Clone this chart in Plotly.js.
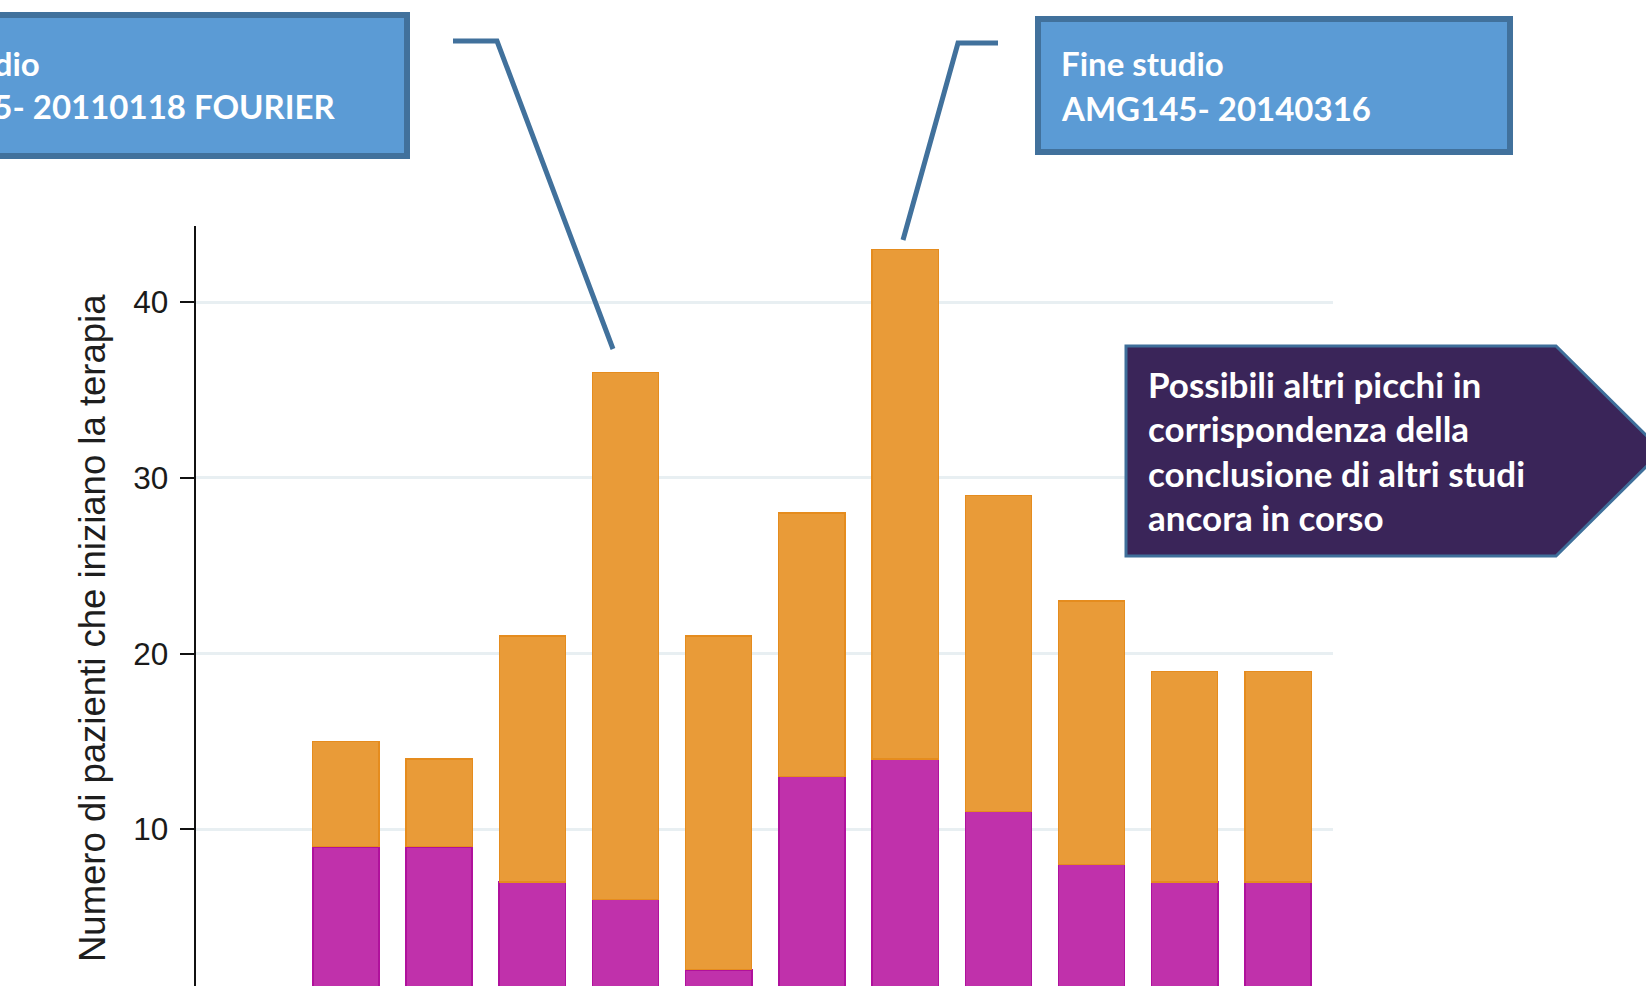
<!DOCTYPE html>
<html>
<head>
<meta charset="utf-8">
<script src="https://cdn.plot.ly/plotly-3.0.1.min.js"></script>
<style>
  html, body { margin: 0; padding: 0; background: #ffffff; }
  #chart { width: 1646px; height: 986px; }
</style>
</head>
<body>
<div id="chart"></div>
<script>
// ---- data ----
const periodi = [1, 2, 3, 4, 5, 6, 7, 8, 9, 10, 11];
const pazientiMagenta = [9, 9, 7, 6, 2, 13, 14, 11, 8, 7, 7];
const pazientiArancio = [6, 5, 14, 30, 19, 15, 29, 18, 15, 12, 12];
const yTickVals = [10, 20, 30, 40];
const yTitle = "Numero di pazienti che iniziano la terapia";
const box1Lines = ["Fine studio", "AMG145- 20110118 FOURIER"];
const box2Lines = ["Fine studio", "AMG145- 20140316"];
const box3Lines = ["Possibili altri picchi in", "corrispondenza della", "conclusione di altri studi", "ancora in corso"];

// ---- layout geometry ----
const W = 1646, H = 986;
const L = 196, R = 1333, T = 226, B = 986;
const PX = p => (p - L) / (R - L);
const PY = p => (B - p) / (B - T);

const traces = [
  {
    type: "bar", x: periodi, y: pazientiMagenta, name: "A",
    marker: { color: "#C031AB", line: { color: "#B0119C", width: 1.5 } },
    hoverinfo: "skip"
  },
  {
    type: "bar", x: periodi, y: pazientiArancio, name: "B",
    marker: { color: "#E99B38", line: { color: "#E58C1E", width: 1.2 } },
    hoverinfo: "skip"
  }
];

const blueLine = "#41719C";
const shapes = [
  { type: "rect", xref: "paper", yref: "paper", x0: PX(-30), x1: PX(407), y0: PY(15), y1: PY(156),
    fillcolor: "#5B9BD5", line: { color: blueLine, width: 6 }, layer: "above" },
  { type: "rect", xref: "paper", yref: "paper", x0: PX(1038), x1: PX(1510), y0: PY(19), y1: PY(152),
    fillcolor: "#5B9BD5", line: { color: blueLine, width: 6 }, layer: "above" },
  { type: "path", xref: "paper", yref: "paper", layer: "above",
    path: "M " + PX(1126) + "," + PY(346) + " L " + PX(1556) + "," + PY(346) +
          " L " + PX(1662) + "," + PY(451) + " L " + PX(1556) + "," + PY(556) +
          " L " + PX(1126) + "," + PY(556) + " Z",
    fillcolor: "#3A2559", line: { color: "#3F6F9A", width: 3 } },
  { type: "path", xref: "paper", yref: "paper", layer: "above",
    path: "M " + PX(453) + "," + PY(41) + " L " + PX(497) + "," + PY(41) + " L " + PX(613) + "," + PY(349),
    line: { color: blueLine, width: 5 } },
  { type: "path", xref: "paper", yref: "paper", layer: "above",
    path: "M " + PX(998) + "," + PY(43) + " L " + PX(958) + "," + PY(43) + " L " + PX(903) + "," + PY(240),
    line: { color: blueLine, width: 5 } }
];

const fontBlue = { family: "Lato, 'Open Sans', sans-serif", size: 33, color: "#ffffff", weight: 700 };
const fontPurple = { family: "Lato, 'Open Sans', sans-serif", size: 35, color: "#ffffff", weight: 700 };
const annotations = [];
function addLine(text, xpx, mid, font) {
  annotations.push({
    xref: "paper", yref: "paper", x: PX(xpx), y: PY(mid),
    xanchor: "left", yanchor: "middle", text: "<b>" + text + "</b>", showarrow: false,
    font: font, align: "left", borderpad: 0
  });
}
// left box: end of line 2 near x=336; both lines share the same left edge
annotations.push({
  xref: "paper", yref: "paper", x: PX(337), y: PY(85),
  xanchor: "right", yanchor: "middle",
  text: "<b>" + box1Lines[0] + "</b><br><b>" + box1Lines[1] + "</b>",
  showarrow: false, font: fontBlue, align: "left", borderpad: 0
});
addLine(box2Lines[0], 1060, 63, fontBlue);
addLine(box2Lines[1], 1060, 108, fontBlue);
box3Lines.forEach((t, i) => addLine(t, 1147, 383.5 + 44.6 * i, fontPurple));
// y-axis title
annotations.push({
  xref: "paper", yref: "paper", x: PX(92), y: PY(628),
  xanchor: "center", yanchor: "middle", textangle: -90, showarrow: false,
  text: yTitle, borderpad: 0,
  font: { size: 36.5, color: "#1e1e1e", family: "'Liberation Sans', Arial, sans-serif" }
});

const layout = {
  width: W, height: H,
  margin: { l: L, r: W - R, t: T, b: H - B, pad: 0 },
  paper_bgcolor: "#ffffff", plot_bgcolor: "#ffffff",
  barmode: "stack", bargap: 0.29, showlegend: false,
  font: { family: "'Liberation Sans', Arial, sans-serif", color: "#1e1e1e" },
  xaxis: { range: [-0.608, 11.59], showgrid: false, zeroline: false, showline: false,
           showticklabels: false, ticks: "", fixedrange: true },
  yaxis: { range: [1.08, 44.34], tickvals: yTickVals, ticktext: yTickVals.map(String),
           showgrid: true, gridcolor: "#E8EFF2", gridwidth: 3, zeroline: false,
           showline: true, linecolor: "#111111", linewidth: 2.5,
           ticks: "outside", ticklen: 14, tickwidth: 2, tickcolor: "#111111",
           ticklabelstandoff: 5,
           tickfont: { size: 31.5, color: "#1a1a1a", family: "'Liberation Sans', Arial, sans-serif" } },
  shapes: shapes,
  annotations: annotations
};

Plotly.newPlot("chart", traces, layout, { staticPlot: true, displayModeBar: false });
</script>
</body>
</html>
